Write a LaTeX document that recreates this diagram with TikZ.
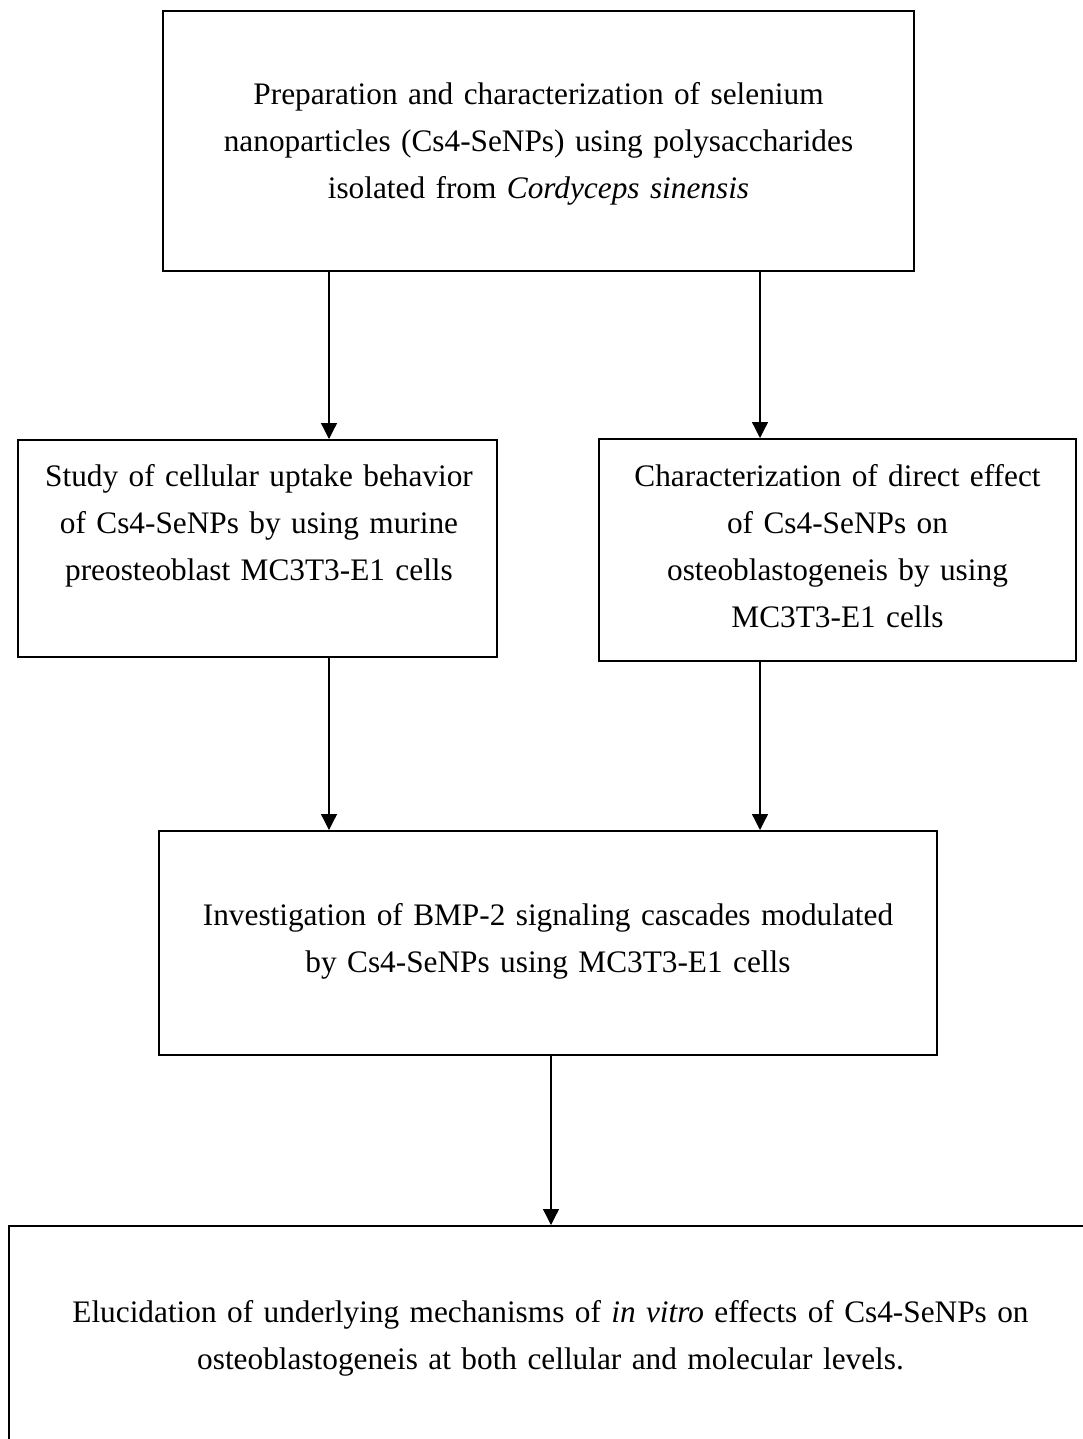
\documentclass[tikz,border=0pt]{standalone}
\usepackage{fontspec}
\setmainfont{Liberation Serif}
\usetikzlibrary{arrows.meta}
\tikzset{
  boxnode/.style={draw=black, line width=2pt, inner sep=0pt, fill=none},
  txtnode/.style={anchor=base, align=center, inner sep=0pt,
    font=\fontsize{31.3pt}{47pt}\selectfont},
  arr/.style={line width=1.3pt, -{Triangle[width=16pt,length=16pt]}}
}
\begin{document}
\begin{tikzpicture}[x=1pt,y=-1pt]
\useasboundingbox (0,0) rectangle (1083,1439);
\clip (0,0) rectangle (1083,1439);
\fill[white] (0,0) rectangle (1083,1439);
% boxes
\node[boxnode, minimum width=751pt, minimum height=260pt] (b1) at (538.5,141) {};
\node[boxnode, minimum width=479pt, minimum height=217pt] (b2) at (257.5,548.5) {};
\node[boxnode, minimum width=477pt, minimum height=222pt] (b3) at (837.5,550) {};
\node[boxnode, minimum width=778pt, minimum height=224pt] (b4) at (548,943) {};
\node[boxnode, minimum width=1083pt, minimum height=254pt] (b5) at (550.5,1353) {};
% texts
\node[txtnode, text width=740pt] (t1) at (538.5,105)
  {Preparation and characterization of selenium\\
   nanoparticles (Cs4-SeNPs) using polysaccharides\\
   isolated from \textit{Cordyceps sinensis}};
\node[txtnode, text width=470pt] (t2) at (259,486)
  {Study of cellular uptake behavior\\
   of Cs4-SeNPs by using murine\\
   preosteoblast MC3T3-E1 cells};
\node[txtnode, text width=470pt] (t3) at (837.5,486)
  {Characterization of direct effect\\
   of Cs4-SeNPs on\\
   osteoblastogeneis by using\\
   MC3T3-E1 cells};
\node[txtnode, text width=770pt] (t4) at (548,925)
  {Investigation of BMP-2 signaling cascades modulated\\
   by Cs4-SeNPs using MC3T3-E1 cells};
\node[txtnode, text width=1060pt] (t5) at (550.5,1322)
  {Elucidation of underlying mechanisms of \textit{in vitro} effects of Cs4-SeNPs on\\
   osteoblastogeneis at both cellular and molecular levels.};
% arrow columns
\coordinate (cL) at (329,0);
\coordinate (cR) at (760,0);
\coordinate (cM) at (551,0);
\draw[arr] (b1.south -| cL) -- (b2.north -| cL);
\draw[arr] (b1.south -| cR) -- (b3.north -| cR);
\draw[arr] (b2.south -| cL) -- (b4.north -| cL);
\draw[arr] (b3.south -| cR) -- (b4.north -| cR);
\draw[arr] (b4.south -| cM) -- (b5.north -| cM);
\end{tikzpicture}
\end{document}
